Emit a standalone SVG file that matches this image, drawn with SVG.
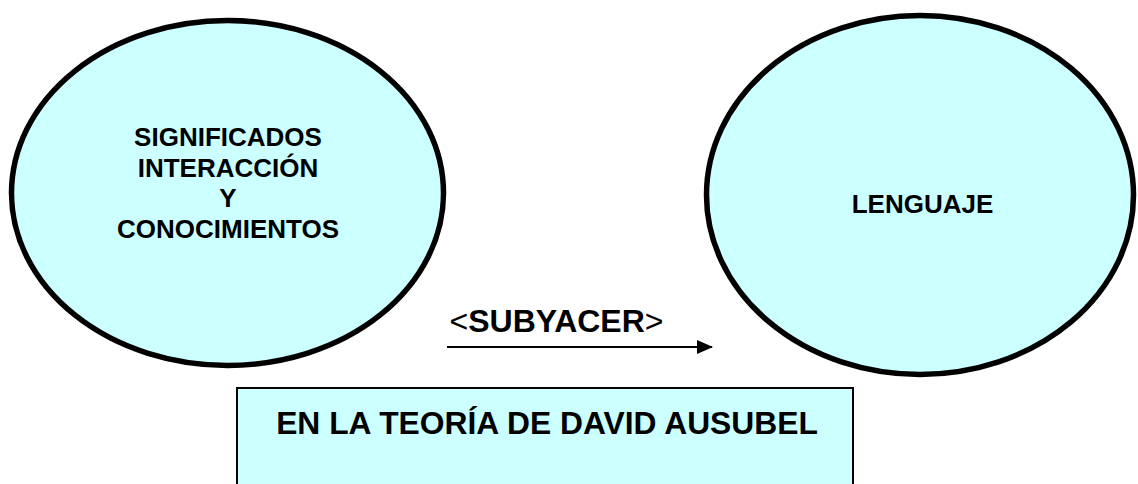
<svg xmlns="http://www.w3.org/2000/svg" width="1138" height="484" viewBox="0 0 1138 484">
<defs>
<style>
.node{fill:#CCFFFF;stroke:#000;stroke-width:5.5}
.box{fill:#CCFFFF;stroke:#000;stroke-width:2}
.t{font-family:"Liberation Sans",Arial,sans-serif;font-weight:bold;fill:#000;text-anchor:middle}
.conn{stroke:#000;stroke-width:2;fill:none}
</style>
<marker id="arr" markerWidth="16" markerHeight="14" refX="15" refY="7" orient="auto" markerUnits="userSpaceOnUse">
<path d="M0,0 L16,7 L0,14 Z" fill="#000"/>
</marker>
</defs>
<rect width="1138" height="484" fill="#fff"/>
<g id="node-significados">
<ellipse class="node" cx="227.5" cy="193" rx="216" ry="172.5"/>
<text class="t" font-size="26" x="228" y="146">SIGNIFICADOS</text>
<text class="t" font-size="26" x="228" y="176.5">INTERACCIÓN</text>
<text class="t" font-size="26" x="228" y="207">Y</text>
<text class="t" font-size="26" x="228" y="237.5">CONOCIMIENTOS</text>
</g>
<g id="node-lenguaje">
<ellipse class="node" cx="920" cy="195" rx="213.5" ry="179.5"/>
<text class="t" font-size="26" x="922.5" y="212.5">LENGUAJE</text>
</g>
<g id="node-teoria">
<rect class="box" x="237" y="388" width="616" height="110"/>
<text class="t" font-size="31.8" x="547" y="434">EN LA TEORÍA DE DAVID AUSUBEL</text>
</g>
<g id="connectors">
<line class="conn" x1="447" y1="347" x2="712" y2="347" marker-end="url(#arr)"/>
<text class="t" font-size="32" x="556.5" y="332"><tspan font-weight="normal">&lt;</tspan>SUBYACER<tspan font-weight="normal">&gt;</tspan></text>
</g>
</svg>
